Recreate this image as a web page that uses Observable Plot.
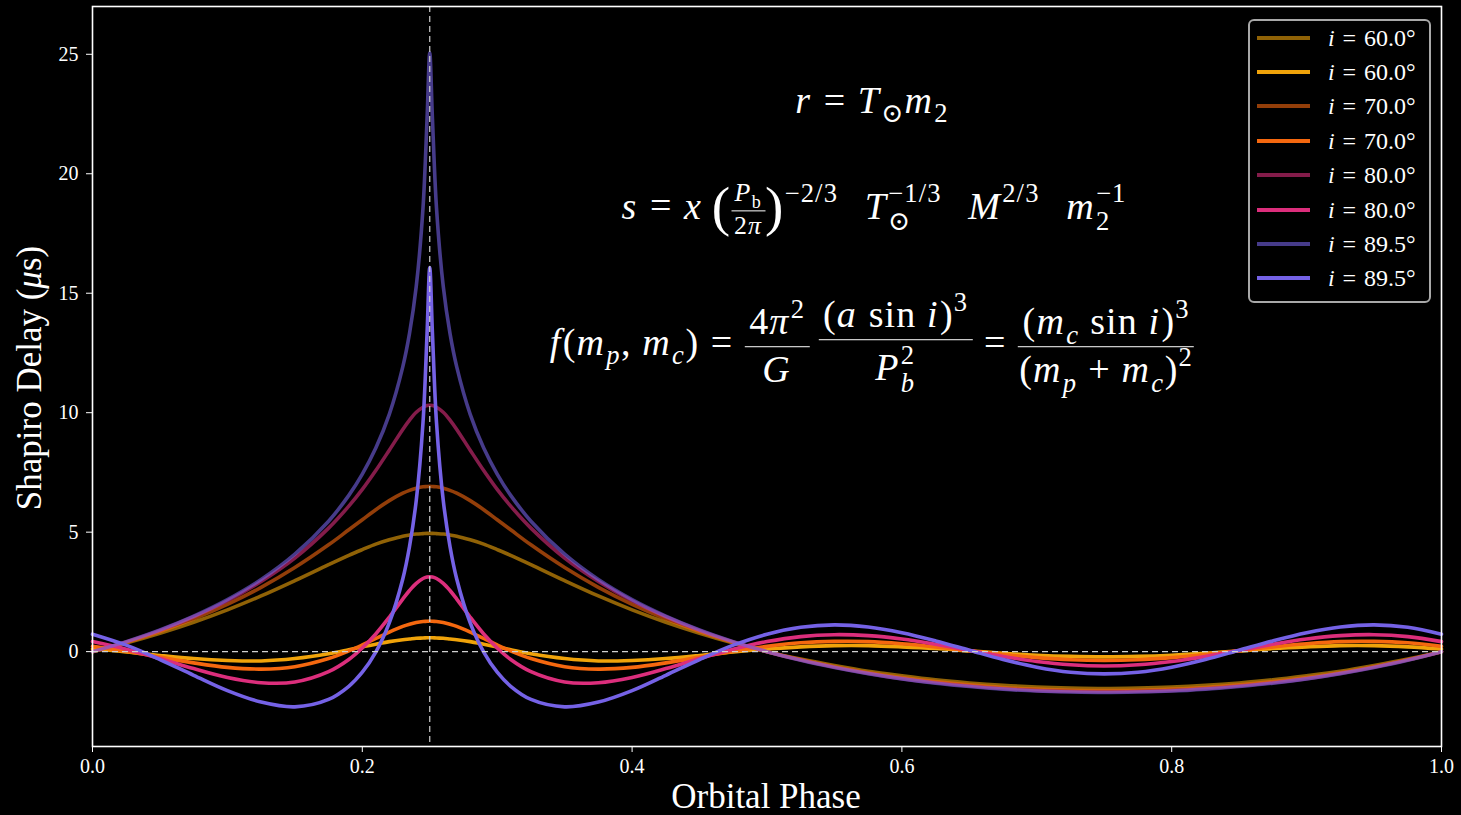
<!DOCTYPE html>
<html><head><meta charset="utf-8">
<script src="https://cdn.jsdelivr.net/npm/d3@7"></script>
<script src="https://cdn.jsdelivr.net/npm/@observablehq/plot@0.6"></script>
<style>
html,body{margin:0;padding:0;background:#000;}
#wrap{position:relative;width:1461px;height:815px;background:#000;overflow:hidden;font-family:"Liberation Serif","DejaVu Serif",serif;color:#fff;}
#wrap svg{position:absolute;left:0;top:0;}
.eq{position:absolute;white-space:nowrap;font-size:38px;line-height:1;transform:translate(-50%,-50%);letter-spacing:0.03em;}
.eq i{font-style:italic;letter-spacing:0.06em;}
.op{margin:0 0.3em;}
.sup{font-size:0.7em;vertical-align:0.62em;line-height:0;}
.sub{font-size:0.7em;vertical-align:-0.35em;line-height:0;}
.ss{display:inline-flex;flex-direction:column;font-size:0.7em;line-height:1.05;vertical-align:0.6em;}
.frac{display:inline-flex;flex-direction:column;align-items:center;vertical-align:middle;line-height:1.1;}
.frac>.num{border-bottom:1.6px solid #fff;padding:0 0.12em 0.08em 0.12em;}
.frac>.den{padding-top:0.05em;}
.small{font-size:0.68em;}
.big{font-size:1.45em;vertical-align:-0.12em;}
.gap{display:inline-block;width:0.7em;}
.lbl{position:absolute;white-space:nowrap;line-height:1;}
.legbox{position:absolute;left:1248px;top:19px;width:179px;height:280px;border:2px solid #a8a8a8;border-radius:6px;background:#000;}
.legline{position:absolute;left:1257px;width:53px;height:4px;}
.legtxt{position:absolute;left:1328px;font-size:24px;line-height:1;transform:translateY(-52%);white-space:nowrap;word-spacing:0.08em;}
</style>
</head><body>
<div id="wrap"></div>
<script>
// Orbital phase sample positions
const phase = [0, 0.025, 0.05, 0.075, 0.1, 0.125, 0.15, 0.175, 0.19, 0.2, 0.21, 0.22, 0.23, 0.235, 0.24, 0.245, 0.248,
  0.25, 0.252, 0.255, 0.26, 0.265, 0.27, 0.28, 0.29, 0.3, 0.31, 0.325, 0.35, 0.375, 0.4, 0.425, 0.45, 0.475, 0.5,
  0.525, 0.55, 0.575, 0.6, 0.625, 0.65, 0.675, 0.7, 0.725, 0.75,
  0.775, 0.8, 0.825, 0.85, 0.875, 0.9, 0.925, 0.95, 0.975, 1.0];

// Full Shapiro delay (us)
const full60 = [0, 0.36, 0.77, 1.23, 1.75, 2.33, 2.97, 3.64, 4.03, 4.27, 4.50, 4.68, 4.83, 4.88, 4.92, 4.94, 4.95,
  4.95, 4.95, 4.94, 4.92, 4.88, 4.83, 4.68, 4.50, 4.27, 4.03, 3.64, 2.97, 2.33, 1.75, 1.23, 0.77, 0.36, 0,
  -0.31, -0.58, -0.82, -1.01, -1.18, -1.31, -1.41, -1.48, -1.52, -1.54,
  -1.52, -1.48, -1.41, -1.31, -1.18, -1.01, -0.82, -0.58, -0.31, 0];
const resid60 = [0.11, -0.01, -0.16, -0.29, -0.37, -0.39, -0.29, -0.09, 0.08, 0.20, 0.31, 0.42, 0.50, 0.53, 0.56, 0.57, 0.58,
  0.58, 0.58, 0.57, 0.56, 0.53, 0.50, 0.42, 0.31, 0.20, 0.08, -0.09, -0.29, -0.39, -0.37, -0.29, -0.16, -0.01, 0.11,
  0.20, 0.25, 0.25, 0.20, 0.13, 0.03, -0.07, -0.15, -0.20, -0.22,
  -0.20, -0.15, -0.07, 0.03, 0.13, 0.20, 0.25, 0.25, 0.20, 0.11];
const full70 = [0, 0.39, 0.84, 1.37, 1.98, 2.69, 3.52, 4.47, 5.10, 5.52, 5.94, 6.32, 6.63, 6.75, 6.84, 6.90, 6.91,
  6.92, 6.91, 6.90, 6.84, 6.75, 6.63, 6.32, 5.94, 5.52, 5.10, 4.47, 3.52, 2.69, 1.98, 1.37, 0.84, 0.39, 0,
  -0.34, -0.63, -0.88, -1.08, -1.25, -1.39, -1.50, -1.57, -1.62, -1.63,
  -1.62, -1.57, -1.50, -1.39, -1.25, -1.08, -0.88, -0.63, -0.34, 0];
const resid70 = [0.22, 0.02, -0.23, -0.47, -0.66, -0.73, -0.63, -0.29, 0.03, 0.28, 0.55, 0.82, 1.06, 1.15, 1.22, 1.26, 1.27,
  1.28, 1.27, 1.26, 1.22, 1.15, 1.06, 0.82, 0.55, 0.28, 0.03, -0.29, -0.63, -0.73, -0.66, -0.47, -0.23, 0.02, 0.22,
  0.37, 0.43, 0.42, 0.33, 0.20, 0.04, -0.12, -0.25, -0.34, -0.37,
  -0.34, -0.25, -0.12, 0.04, 0.20, 0.33, 0.42, 0.43, 0.37, 0.22];
const full80 = [0, 0.41, 0.89, 1.46, 2.13, 2.94, 3.92, 5.17, 6.09, 6.79, 7.58, 8.43, 9.30, 9.69, 10.02, 10.23, 10.30,
  10.31, 10.30, 10.23, 10.02, 9.69, 9.30, 8.43, 7.58, 6.79, 6.09, 5.17, 3.92, 2.94, 2.13, 1.46, 0.89, 0.41, 0,
  -0.35, -0.65, -0.91, -1.13, -1.30, -1.44, -1.55, -1.63, -1.67, -1.69,
  -1.67, -1.63, -1.55, -1.44, -1.30, -1.13, -0.91, -0.65, -0.35, 0];
const resid80 = [0.42, 0.10, -0.29, -0.71, -1.08, -1.30, -1.27, -0.84, -0.33, 0.15, 0.74, 1.44, 2.20, 2.56, 2.86, 3.06, 3.12,
  3.13, 3.12, 3.06, 2.86, 2.56, 2.20, 1.44, 0.74, 0.15, -0.33, -0.84, -1.27, -1.30, -1.08, -0.71, -0.29, 0.10, 0.42,
  0.63, 0.71, 0.67, 0.53, 0.31, 0.05, -0.20, -0.41, -0.55, -0.60,
  -0.55, -0.41, -0.20, 0.05, 0.31, 0.53, 0.67, 0.71, 0.63, 0.42];
const full895 = [0, 0.42, 0.91, 1.49, 2.18, 3.02, 4.08, 5.46, 6.54, 7.43, 8.52, 9.93, 11.92, 13.32, 15.29, 18.57, 22.30,
  25.06, 22.30, 18.57, 15.29, 13.32, 11.92, 9.93, 8.52, 7.43, 6.54, 5.46, 4.08, 3.02, 2.18, 1.49, 0.91, 0.42, 0,
  -0.36, -0.66, -0.92, -1.14, -1.32, -1.46, -1.57, -1.65, -1.69, -1.71,
  -1.69, -1.65, -1.57, -1.46, -1.32, -1.14, -0.92, -0.66, -0.36, 0];
const resid895 = [0.73, 0.27, -0.33, -0.99, -1.63, -2.11, -2.31, -2.00, -1.45, -0.86, -0.02, 1.20, 3.04, 4.40, 6.33, 9.59, 13.31,
  16.07, 13.31, 9.59, 6.33, 4.40, 3.04, 1.20, -0.02, -0.86, -1.45, -2.00, -2.31, -2.11, -1.63, -0.99, -0.33, 0.27, 0.73,
  1.02, 1.12, 1.03, 0.79, 0.45, 0.06, -0.33, -0.65, -0.86, -0.93,
  -0.86, -0.65, -0.33, 0.06, 0.45, 0.79, 1.03, 1.12, 1.02, 0.73];

const legendLabels = ["60.0", "60.0", "70.0", "70.0", "80.0", "80.0", "89.5", "89.5"];
const seriesValues = [full60, resid60, full70, resid70, full80, resid80, full895, resid895];
const seriesColors = ["#f0a30a", "#f0a30a", "#f5680f", "#f5680f", "#dc2e7c", "#dc2e7c", "#7562e6", "#7562e6"];
const seriesOpacity = [0.6, 1, 0.6, 1, 0.6, 1, 0.6, 1];
const yTicks = [0, 5, 10, 15, 20, 25];
const xTicks = [0, 0.2, 0.4, 0.6, 0.8, 1.0];

const lineMarks = seriesValues.map((vals, k) =>
  Plot.line(phase.map((x, j) => ({x, y: vals[j]})), {
    x: "x", y: "y", stroke: seriesColors[k], strokeOpacity: seriesOpacity[k],
    strokeWidth: 3.6, curve: "catmull-rom"
  })
);

const chart = Plot.plot({
  width: 1461, height: 815,
  marginLeft: 92, marginRight: 20, marginTop: 6, marginBottom: 69,
  style: {background: "#000", color: "#fff", fontFamily: "'Liberation Serif', serif"},
  x: {domain: [0, 1]},
  y: {domain: [-3.97, 27.0]},
  marks: [
    ...lineMarks,
    Plot.ruleY([0], {stroke: "#d0d0d0", strokeWidth: 1.2, strokeDasharray: "6,4"}),
    Plot.ruleX([0.25], {stroke: "#d0d0d0", strokeWidth: 1.2, strokeDasharray: "6,4"}),
    Plot.frame({stroke: "#fff", strokeWidth: 1.6}),
    Plot.axisX({ticks: xTicks, tickFormat: d => d.toFixed(1), tickSize: 6, tickPadding: 6, fontSize: 20, label: null, color: "#fff"}),
    Plot.axisY({ticks: yTicks, tickSize: 6, tickPadding: 8, fontSize: 20, label: null, color: "#fff"})
  ]
});

const wrap = document.getElementById("wrap");
wrap.appendChild(chart);

// Axis labels
const xl = document.createElement("div");
xl.className = "lbl";
xl.style.cssText = "left:766px;top:796px;font-size:35px;transform:translate(-50%,-50%);";
xl.textContent = "Orbital Phase";
wrap.appendChild(xl);
const yl = document.createElement("div");
yl.className = "lbl";
yl.style.cssText = "left:29px;top:378px;font-size:35px;transform:translate(-50%,-50%) rotate(-90deg);";
yl.innerHTML = "Shapiro Delay (<i>μ</i>s)";
wrap.appendChild(yl);

// Equations
const eqs = [
  {x: 872, y: 100, html: '<i>r</i><span class="op">=</span><i>T</i><span class="sub">⊙</span><i>m</i><span class="sub">2</span>'},
  {x: 874, y: 210, html: '<i>s</i><span class="op">=</span><i>x</i>&#8201;<span class="big">(</span><span class="frac small"><span class="num"><i>P</i><span class="sub">b</span></span><span class="den">2<i>π</i></span></span><span class="big">)</span><span class="sup">−2/3</span><span class="gap"></span><i>T</i><span class="ss"><span>−1/3</span><span>⊙</span></span><span class="gap"></span><i>M</i><span class="sup">2/3</span><span class="gap"></span><i>m</i><span class="ss"><span>−1</span><span>2</span></span>'},
  {x: 872, y: 346, html: '<i>f</i>(<i>m</i><span class="sub"><i>p</i></span>, <i>m</i><span class="sub"><i>c</i></span>)<span class="op">=</span><span class="frac"><span class="num">4<i>π</i><span class="sup">2</span></span><span class="den"><i>G</i></span></span>&#8201;<span class="frac"><span class="num">(<i>a</i> sin <i>i</i>)<span class="sup">3</span></span><span class="den"><i>P</i><span class="ss"><span>2</span><span><i>b</i></span></span></span></span><span class="op">=</span><span class="frac"><span class="num">(<i>m</i><span class="sub"><i>c</i></span> sin <i>i</i>)<span class="sup">3</span></span><span class="den">(<i>m</i><span class="sub"><i>p</i></span> + <i>m</i><span class="sub"><i>c</i></span>)<span class="sup">2</span></span></span>'}
];
for (const e of eqs) {
  const d = document.createElement("div");
  d.className = "eq";
  d.style.left = e.x + "px";
  d.style.top = e.y + "px";
  d.innerHTML = e.html;
  wrap.appendChild(d);
}

// Legend
const box = document.createElement("div");
box.className = "legbox";
wrap.appendChild(box);
legendLabels.forEach((lab, k) => {
  const cy = 37.5 + k * 34.4;
  const ln = document.createElement("div");
  ln.className = "legline";
  ln.style.top = (cy - 2) + "px";
  ln.style.background = seriesColors[k];
  ln.style.opacity = seriesOpacity[k];
  wrap.appendChild(ln);
  const t = document.createElement("div");
  t.className = "legtxt";
  t.style.top = cy + "px";
  t.innerHTML = '<i>i</i> = ' + lab + '°';
  wrap.appendChild(t);
});
</script>
</body></html>
